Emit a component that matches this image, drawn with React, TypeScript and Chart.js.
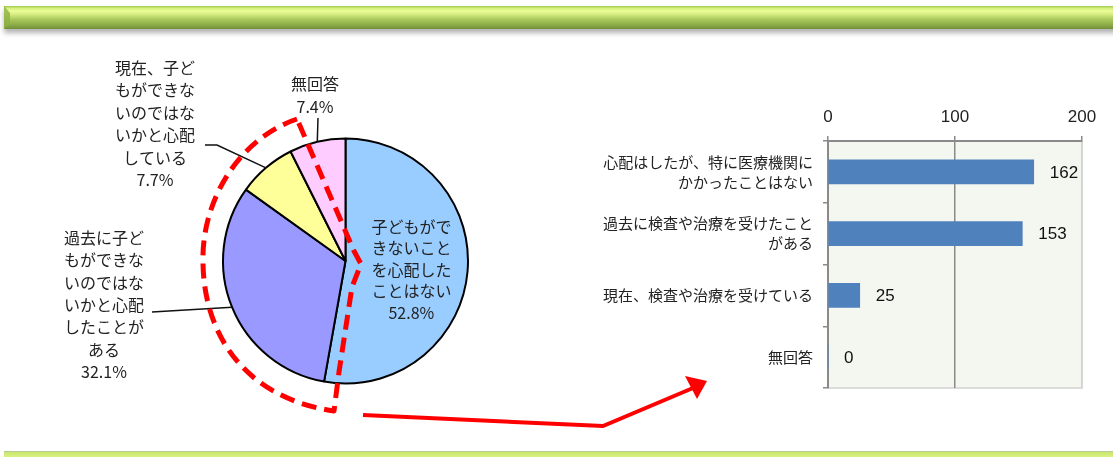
import React, { useEffect, useRef } from 'react';
import { Chart, registerables } from 'chart.js';

Chart.register(...registerables);

// ---------- data ----------
const pieCategories = [
  '子どもができないことを心配したことはない',
  '過去に子どもができないのではないかと心配したことがある',
  '現在、子どもができないのではないかと心配している',
  '無回答',
];
const pieValues = [52.8, 32.1, 7.7, 7.4];
const pieLabelLines = [
  ['子どもがで', 'きないこと', 'を心配した', 'ことはない', '52.8%'],
  ['過去に子ど', 'もができな', 'いのではな', 'いかと心配', 'したことが', 'ある', '32.1%'],
  ['現在、子ど', 'もができな', 'いのではな', 'いかと心配', 'している', '7.7%'],
  ['無回答', '7.4%'],
];
const pieColors = ['#99CCFF', '#9999FF', '#FFFF99', '#FFCCFF'];

const barCategories = [
  ['心配はしたが、特に医療機関に', 'かかったことはない'],
  ['過去に検査や治療を受けたこと', 'がある'],
  '現在、検査や治療を受けている',
  '無回答',
];
const barValues = [162, 153, 25, 0];
const xTicks = [0, 100, 200];

const JP = '"Noto Sans CJK JP", "Noto Sans CJK SC", sans-serif';
const LAT = '"Liberation Sans", Arial, sans-serif';

// outside label layout for pie (text centre x, first line y, line step, leader start points)
const outsideLayout: Record<number, { x: number; y: number; step: number; leader: number[][] }> = {
  1: { x: 104, y: 238, step: 22.3, leader: [[152, 312]] },
  2: { x: 155, y: 68, step: 22.4, leader: [[205, 145], [217, 145]] },
  3: { x: 315, y: 84, step: 23, leader: [[318, 118]] },
};

const piePlugin = {
  id: 'pieLabels',
  afterDraw(chart: any) {
    const ctx = chart.ctx;
    const meta = chart.getDatasetMeta(0);
    ctx.save();
    ctx.font = `16px ${JP}`;
    ctx.fillStyle = '#222';
    ctx.textAlign = 'center';
    ctx.textBaseline = 'middle';
    meta.data.forEach((arc: any, i: number) => {
      const { x, y, startAngle, endAngle, outerRadius } = arc.getProps(
        ['x', 'y', 'startAngle', 'endAngle', 'outerRadius'],
        true
      );
      const mid = (startAngle + endAngle) / 2;
      const lines = pieLabelLines[i];
      if (i === 0) {
        const cx = x + Math.cos(mid) * outerRadius * 0.54;
        const cy = y + Math.sin(mid) * outerRadius * 0.54 + 3;
        const step = 21.5;
        const y0 = cy - ((lines.length - 1) * step) / 2;
        lines.forEach((t, k) => ctx.fillText(t, cx, y0 + k * step));
      } else {
        const L = outsideLayout[i];
        lines.forEach((t, k) => ctx.fillText(t, L.x, L.y + k * L.step));
        const ex = x + Math.cos(mid) * outerRadius;
        const ey = y + Math.sin(mid) * outerRadius;
        ctx.beginPath();
        ctx.strokeStyle = '#111';
        ctx.lineWidth = 1.5;
        ctx.moveTo(L.leader[0][0], L.leader[0][1]);
        for (let k = 1; k < L.leader.length; k++) ctx.lineTo(L.leader[k][0], L.leader[k][1]);
        ctx.lineTo(ex, ey);
        ctx.stroke();
      }
    });
    ctx.restore();
  },
};

const barBgPlugin = {
  id: 'barBg',
  beforeDraw(chart: any) {
    const { ctx, chartArea: a } = chart;
    ctx.save();
    ctx.fillStyle = '#F4F7F0';
    ctx.fillRect(a.left, a.top, a.right - a.left, a.bottom - a.top);
    ctx.strokeStyle = '#d2d2d2';
    ctx.lineWidth = 1.5;
    ctx.beginPath();
    ctx.moveTo(a.left, a.bottom);
    ctx.lineTo(a.right, a.bottom);
    ctx.lineTo(a.right, a.top);
    ctx.stroke();
    ctx.restore();
  },
  afterDatasetsDraw(chart: any) {
    const ctx = chart.ctx;
    const meta = chart.getDatasetMeta(0);
    ctx.save();
    ctx.font = `17px ${LAT}`;
    ctx.fillStyle = '#111';
    ctx.textAlign = 'left';
    ctx.textBaseline = 'middle';
    meta.data.forEach((bar: any, i: number) => {
      ctx.fillText(String(barValues[i]), bar.x + 16, bar.y + 1);
    });
    ctx.restore();
  },
};

function PieChart() {
  const ref = useRef<HTMLCanvasElement>(null);
  useEffect(() => {
    const chart = new Chart(ref.current!, {
      type: 'pie',
      data: {
        labels: pieCategories,
        datasets: [
          {
            data: pieValues,
            backgroundColor: pieColors,
            borderColor: '#000',
            borderWidth: 2,
          },
        ],
      },
      options: {
        responsive: false,
        animation: false,
        layout: { padding: { left: 222, right: 91, top: 137, bottom: 72 } },
        plugins: { legend: { display: false }, tooltip: { enabled: false } },
      },
      plugins: [piePlugin],
    });
    return () => chart.destroy();
  }, []);
  return (
    <canvas
      ref={ref}
      width={560}
      height={457}
      style={{ position: 'absolute', left: 0, top: 0, width: 560, height: 457 }}
    />
  );
}

function BarChart() {
  const ref = useRef<HTMLCanvasElement>(null);
  useEffect(() => {
    const chart = new Chart(ref.current!, {
      type: 'bar',
      data: {
        labels: barCategories as any,
        datasets: [
          {
            data: barValues,
            backgroundColor: '#4F81BD',
            borderWidth: 0,
            barThickness: 24,
          },
        ],
      },
      options: {
        indexAxis: 'y',
        responsive: false,
        animation: false,
        layout: { padding: { left: 0, right: 31, top: 0, bottom: 12 } },
        plugins: { legend: { display: false }, tooltip: { enabled: false } },
        scales: {
          x: {
            position: 'top',
            min: xTicks[0],
            max: xTicks[xTicks.length - 1],
            afterBuildTicks: (s: any) => {
              s.ticks = xTicks.map((v) => ({ value: v }));
            },
            ticks: { font: { family: LAT, size: 17 }, color: '#222', padding: 8 },
            grid: {
              color: (c: any) => (c.index === 2 ? '#d2d2d2' : '#8a8a8a'),
              tickColor: '#8a8a8a',
              tickLength: 5,
              lineWidth: 1.5,
            },
            border: { color: '#8a8a8a', width: 2 },
            afterFit: (s: any) => {
              s.height = 51;
              s.paddingLeft = 0;
              s.paddingRight = 0;
            },
          },
          y: {
            ticks: {
              font: { family: JP, size: 15, lineHeight: 1.33 },
              color: '#222',
              padding: 10,
            },
            grid: { drawOnChartArea: false, tickLength: 5, color: '#8a8a8a', lineWidth: 1.5, offset: true },
            border: { color: '#8a8a8a', width: 2 },
            afterFit: (s: any) => {
              s.width = 268;
              s.paddingTop = 0;
              s.paddingBottom = 0;
            },
          },
        },
      } as any,
      plugins: [barBgPlugin],
    });
    return () => chart.destroy();
  }, []);
  return (
    <canvas
      ref={ref}
      width={553}
      height={310}
      style={{ position: 'absolute', left: 560, top: 90, width: 553, height: 310 }}
    />
  );
}

export default function App() {
  const topGrad =
    'linear-gradient(to bottom, #9cc84c 0%, #d6f07e 10%, #ecfd98 22%, #d2ea7e 38%, #a9c95c 58%, #8fae49 80%, #728f3a 100%)';
  return (
    <div
      style={{
        position: 'absolute',
        left: 0,
        top: 0,
        width: 1113,
        height: 457,
        background: '#fff',
        overflow: 'hidden',
      }}
    >
      {/* top green banner */}
      <div
        style={{
          position: 'absolute',
          left: 4,
          top: 6,
          width: 1115,
          height: 23,
          background: topGrad,
          boxShadow: '0 4px 5px rgba(0,0,0,0.3)',
        }}
      />
      {/* bottom green banner */}
      <div
        style={{
          position: 'absolute',
          left: 4,
          top: 451,
          width: 1115,
          height: 7,
          borderTop: '1px solid #b8c99a',
          background: 'linear-gradient(to bottom, #c9e66c, #def68c)',
        }}
      />
      <PieChart />
      <BarChart />
      <svg
        width={1113}
        height={457}
        style={{ position: 'absolute', left: 0, top: 0, pointerEvents: 'none' }}
      >
        {/* banner left bevel */}
        <polygon points="4,6 10,13 10,23 4,29" fill="#8fb047" opacity={0.8} />
        {/* red dashed outline */}
        <path
          d="M 297 119 C 240 138, 201 200, 203 263 C 204 335, 245 398, 334 411 L 339 372 L 352 287 L 361 264 L 354 251 Z"
          fill="none"
          stroke="#FF0000"
          strokeWidth={5}
          strokeDasharray="15 8"
          strokeLinejoin="round"
        />
        {/* red arrow */}
        <polyline
          points="363,415 603,426 693,388"
          fill="none"
          stroke="#FF0000"
          strokeWidth={4}
          strokeLinejoin="miter"
        />
        <polygon points="707,381 685,376 697,399" fill="#FF0000" />
      </svg>
    </div>
  );
}
